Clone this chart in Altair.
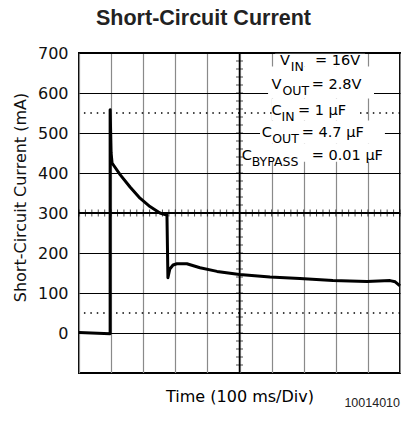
import altair as alt
import pandas as pd

# ---- data (time in divisions of 100 ms, current in mA) ----
t_div = [0.0, 0.97, 0.97, 1.0, 1.03, 1.28, 1.59, 1.90, 2.21, 2.52, 2.68, 2.74, 2.77,
         2.83, 2.93, 3.05, 3.36, 3.77, 4.30, 5.00, 5.95, 6.88, 7.91, 8.97, 9.69, 9.85, 10.0]
current_ma = [1, -2, 558, 450, 425, 396, 365, 337, 316, 300, 296, 295, 138,
              160, 170, 173, 173, 163, 154, 146, 140, 136, 131, 129, 131, 128, 118]

y_ticks = list(range(-100, 701, 100))
x_ticks = list(range(0, 11))
dotted_levels = [550, 50]
center_x = 5
center_y = 300
minor_x = [round(i * 0.2, 2) for i in range(51)]
minor_y = list(range(-100, 701, 20))

# legend text block (start positions in divisions, baselines in mA)
leg_main = ["V", "V", "C", "C", "C"]
leg_sub = ["IN", "OUT", "IN", "OUT", "BYPASS"]
leg_rest = ["= 16V", "= 2.8V", "= 1 μF", "= 4.7 μF", "= 0.01 μF"]
leg_y = [671, 610, 546, 490, 433]
leg_x_main = [6.26, 6.00, 6.00, 5.69, 5.07]
leg_x_sub = [6.60, 6.34, 6.31, 6.02, 5.38]
leg_x_rest = [7.35, 7.25, 6.82, 6.94, 7.25]
# white backgrounds behind legend rows
mask_x1 = [6.11, 5.89, 6.01, 5.64, 5.17]
mask_x2 = [8.91, 9.19, 8.75, 9.53, 9.84]
mask_y1 = [698, 666, 586, 531, 473]
mask_y2 = [666, 586, 531, 473, 428]

title_text = ["Short-Circuit Current"]
code_text = ["10014010"]

FONT = "DejaVu Sans"

xs = alt.Scale(domain=[0, 10], nice=False, zero=False)
ys = alt.Scale(domain=[-100, 700], nice=False, zero=False)

x_axis = alt.Axis(
    values=x_ticks, labels=False, ticks=False, domain=False, grid=True,
    gridColor="#8a8a8a", gridWidth=1.2, title="Time  (100 ms/Div)",
    titleFont=FONT, titleFontSize=16, titleFontWeight="normal",
    titleColor="black", titlePadding=15)
y_axis = alt.Axis(
    values=y_ticks, labelExpr="datum.value < 0 ? '' : datum.label",
    ticks=False, tickSize=0, domain=False, grid=True, gridColor="black",
    gridWidth=1, labelFont=FONT, labelFontSize=16, labelColor="#111111",
    labelPadding=11, labelOverlap=False, labelBaseline="middle",
    title="Short-Circuit Current (mA)", titleFont=FONT, titleFontSize=16,
    titleFontWeight="normal", titleColor="#111111", titleAngle=270,
    titleAlign="center", titleBaseline="middle", titleX=-59, titleY=144)


def X(field="x"):
    return alt.X(f"{field}:Q", scale=xs, axis=x_axis)


def Y(field="y"):
    return alt.Y(f"{field}:Q", scale=ys, axis=y_axis)


curve_df = pd.DataFrame({"x": t_div, "y": current_ma, "k": range(len(t_div))})
curve = alt.Chart(curve_df).mark_line(color="black", strokeWidth=3, strokeJoin="round").encode(
    x=X(), y=Y(), order="k:Q")

dotted = alt.Chart(pd.DataFrame({"y": dotted_levels})).mark_rule(
    color="black", strokeWidth=1.5, strokeDash=[1.5, 4.92]).encode(y=Y())

hline = alt.Chart(pd.DataFrame({"y": [center_y]})).mark_rule(
    color="black", strokeWidth=2).encode(y=Y())
vline = alt.Chart(pd.DataFrame({"x": [center_x]})).mark_rule(
    color="black", strokeWidth=1.5).encode(x=X())

ticks_h = alt.Chart(pd.DataFrame({"x": minor_x, "y": [center_y] * len(minor_x)})).mark_tick(
    orient="vertical", color="black", size=7, thickness=1).encode(x=X(), y=Y())
ticks_v = alt.Chart(pd.DataFrame({"x": [center_x] * len(minor_y), "y": minor_y})).mark_tick(
    orient="horizontal", color="black", size=7, thickness=1).encode(x=X(), y=Y())

mask_df = pd.DataFrame({"x": mask_x1, "x2": mask_x2, "y": mask_y1, "y2": mask_y2})
masks = alt.Chart(mask_df).mark_rect(color="white").encode(
    x=X(), x2="x2:Q", y=Y(), y2="y2:Q")

main_df = pd.DataFrame({"x": leg_x_main + leg_x_rest, "y": leg_y + leg_y,
                        "txt": leg_main + leg_rest})
sub_df = pd.DataFrame({"x": leg_x_sub, "y": leg_y, "txt": leg_sub})
main_txt = alt.Chart(main_df).mark_text(
    font=FONT, fontSize=14.5, align="left", baseline="alphabetic", color="black").encode(
    x=X(), y=Y(), text="txt:N")
sub_txt = alt.Chart(sub_df).mark_text(
    font=FONT, fontSize=12.5, align="left", baseline="alphabetic", dy=6, color="black").encode(
    x=X(), y=Y(), text="txt:N")

title = alt.Chart(pd.DataFrame({"t": title_text})).mark_text(
    font="Liberation Sans", fontSize=21.5, fontWeight="bold", align="center",
    baseline="alphabetic", color="#222222").encode(
    x=alt.value(124.5), y=alt.value(-28), text="t:N")

code = alt.Chart(pd.DataFrame({"code": code_text})).mark_text(
    font="Liberation Sans", fontSize=12.5, align="right", baseline="alphabetic",
    color="#222222").encode(x=alt.value(321), y=alt.value(353.5), text="code:N")

chart = alt.layer(
    dotted, hline, vline, ticks_h, ticks_v, masks, main_txt, sub_txt, curve, code, title
).properties(
    width=321, height=320,
    autosize=alt.AutoSizeParams(type="none"),
    padding={"left": 71, "top": 45, "right": 1, "bottom": 64},
    background="white",
).configure_view(stroke="black", strokeWidth=2)

chart.save("out.html", embed_options={"renderer": "svg", "actions": False})
